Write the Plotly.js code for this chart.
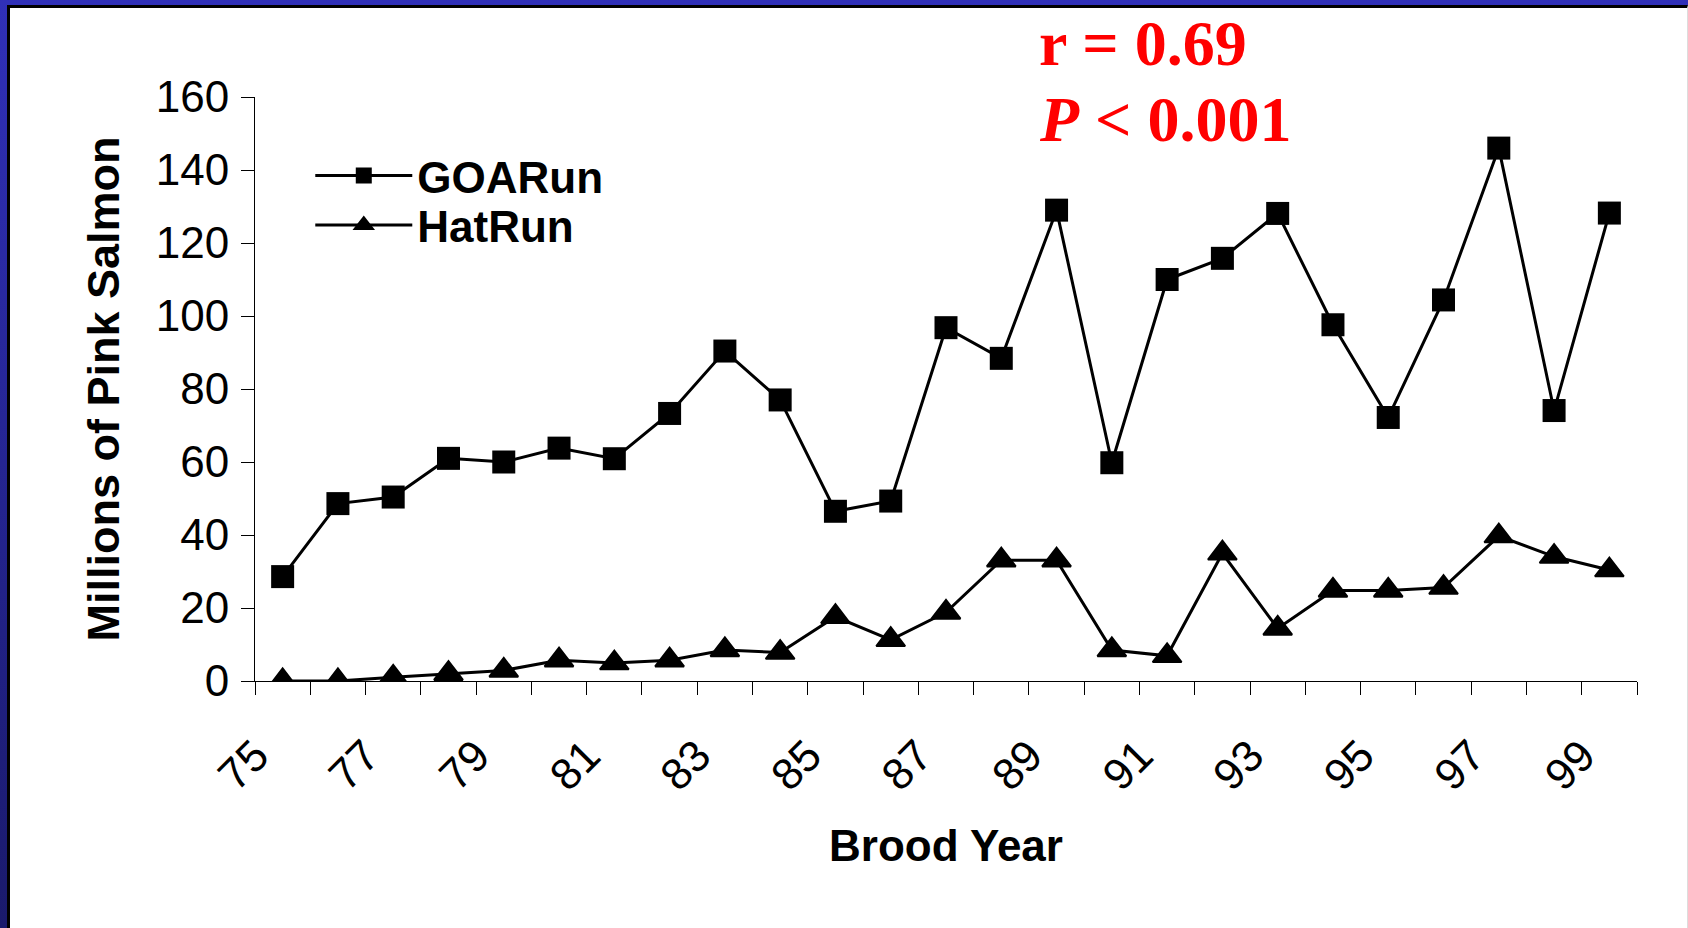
<!DOCTYPE html>
<html>
<head>
<meta charset="utf-8">
<script src="https://cdn.plot.ly/plotly-3.0.1.min.js"></script>
<style>
  html, body { margin: 0; padding: 0; background: #ffffff; }
  #frame {
    position: absolute; left: 0; top: 0; width: 1688px; height: 928px;
    box-sizing: border-box;
    background: linear-gradient(#3030b8, #1a1a6c);
    padding: 5px 0 0 7px;
  }
  #frame .inner {
    width: 100%; height: 100%; box-sizing: border-box;
    background: #ffffff;
    border-top: 3px solid #000000;
    border-left: 3px solid #000000;
    border-right: 1px solid #dddddd;
  }
  #plot { position: absolute; left: 0; top: 0; width: 1688px; height: 928px; }
</style>
</head>
<body>
<div id="frame"><div class="inner"></div></div>
<div id="plot"></div>
<script>
// brood years 1975-1999
const years = [75, 76, 77, 78, 79, 80, 81, 82, 83, 84, 85, 86, 87,
               88, 89, 90, 91, 92, 93, 94, 95, 96, 97, 98, 99];
const goaRun = [28.6, 48.6, 50.4, 61.0, 60.0, 63.8, 60.9, 73.3, 90.4, 77.0, 46.5, 49.3, 96.8,
                88.4, 129.0, 59.8, 110.0, 115.8, 128.1, 97.6, 72.2, 104.4, 146.0, 74.1, 128.2];
const hatRun = [0, 0, 1.0, 2.0, 2.9, 5.7, 4.9, 5.7, 8.5, 7.8, 17.6, 11.3, 18.8,
                33.1, 33.1, 8.5, 6.9, 35.0, 14.4, 24.8, 24.8, 25.6, 39.7, 34.1, 30.4];
const xTickVals = [75, 77, 79, 81, 83, 85, 87, 89, 91, 93, 95, 97, 99];
const xTickText = ['75', '77', '79', '81', '83', '85', '87', '89', '91', '93', '95', '97', '99'];

const SANS = 'Liberation Sans, Arial, sans-serif';
const SERIF = 'Liberation Serif, Times New Roman, serif';

const traces = [{
  x: years,
  y: goaRun,
  type: 'scatter',
  mode: 'lines+markers',
  name: 'GOARun',
  legend: 'legend',
  line: { color: '#000000', width: 3 },
  marker: { symbol: 'square', size: 23, color: '#000000' }
}, {
  x: years,
  y: hatRun,
  type: 'scatter',
  mode: 'lines+markers',
  name: 'HatRun',
  legend: 'legend2',
  line: { color: '#000000', width: 3 },
  marker: { symbol: 'triangle-up', size: 25, color: '#000000', line: { color: '#000000', width: 2 } }
}];

// one legend per row so the rows sit as tight as in the slide
const legendBase = {
  xanchor: 'left', yanchor: 'middle',
  bgcolor: 'rgba(0,0,0,0)',
  font: { family: SANS, size: 44, weight: 'bold', color: '#000000' },
  itemwidth: 97
};

const layout = {
  width: 1688,
  height: 928,
  margin: { l: 255, r: 51, t: 97, b: 247 },
  paper_bgcolor: 'rgba(0,0,0,0)',
  plot_bgcolor: 'rgba(0,0,0,0)',
  font: { family: SANS, size: 44, color: '#000000' },
  showlegend: true,
  legend: Object.assign({}, legendBase, { x: 0.040, y: 0.865 }),
  legend2: Object.assign({}, legendBase, { x: 0.040, y: 0.780 }),
  xaxis: {
    range: [74.5, 99.5],
    tickmode: 'array',
    tickvals: xTickVals,
    ticktext: xTickText,
    tickangle: -45,
    ticks: 'outside',
    ticklen: 13,
    tickcolor: 'rgba(0,0,0,0)',
    ticklabelshift: -27,
    ticklabelstandoff: 17,
    minor: { tick0: 74.5, dtick: 1, ticks: 'outside', ticklen: 13, tickcolor: '#000000', tickwidth: 1, showgrid: false },
    showline: true,
    linecolor: '#000000',
    linewidth: 1,
    showgrid: false,
    zeroline: false,
    tickfont: { family: SANS, size: 44 },
    title: { text: 'Brood Year', font: { family: SANS, size: 44, weight: 'bold' }, standoff: 31 }
  },
  yaxis: {
    range: [0, 160],
    dtick: 20,
    ticks: 'outside',
    ticklen: 13,
    tickcolor: '#000000',
    ticklabelstandoff: 3,
    showline: true,
    linecolor: '#000000',
    linewidth: 1,
    showgrid: false,
    zeroline: false,
    tickfont: { family: SANS, size: 44 },
    title: { text: 'Millions of Pink Salmon', font: { family: SANS, size: 45, weight: 'bold' }, standoff: 22 }
  },
  annotations: [{
    text: '<b>r = 0.69</b>',
    xref: 'paper', yref: 'paper',
    x: 0.566, y: 1.091, xanchor: 'left', yanchor: 'middle',
    showarrow: false,
    font: { family: SERIF, size: 64, color: '#ff0000' }
  }, {
    text: '<b><i>P</i> &lt; 0.001</b>',
    xref: 'paper', yref: 'paper',
    x: 0.566, y: 0.962, xanchor: 'left', yanchor: 'middle',
    showarrow: false,
    font: { family: SERIF, size: 64, color: '#ff0000' }
  }]
};

Plotly.newPlot('plot', traces, layout, { displayModeBar: false, staticPlot: true });
</script>
</body>
</html>
